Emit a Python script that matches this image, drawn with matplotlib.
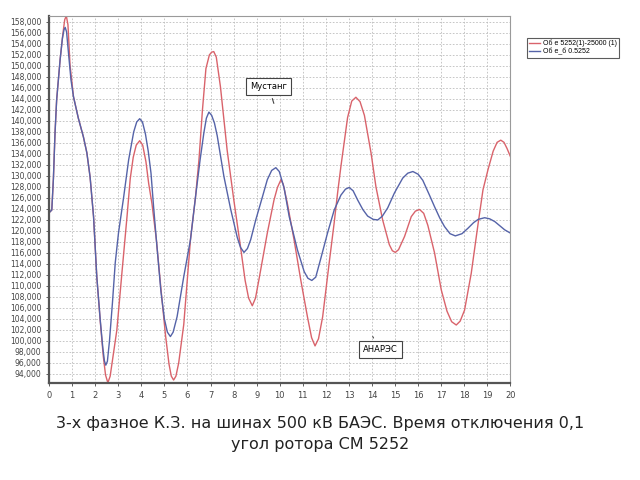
import matplotlib.pyplot as plt
from matplotlib.ticker import FuncFormatter

# red curve: Об е 5252(1)-25000 (1)   (time, value in thousands)
t_red = [0, 0.12, 0.19, 0.26, 0.33, 0.48, 0.6, 0.68, 0.75, 0.82, 0.91, 1.06, 1.27, 1.49,
         1.64, 1.78, 1.93, 2.07, 2.22, 2.35, 2.45, 2.55, 2.65, 2.75, 2.94, 3.16, 3.38, 3.52,
         3.65, 3.78, 3.93, 4.06, 4.2, 4.32, 4.46, 4.65, 4.85, 5.05, 5.2, 5.3, 5.4, 5.5, 5.62,
         5.84, 6.13, 6.35, 6.5, 6.65, 6.8, 6.95, 7.05, 7.14, 7.25, 7.43, 7.72, 8.01, 8.3, 8.5,
         8.65, 8.81, 8.95, 9.1, 9.46, 9.75, 9.9, 10.05, 10.15, 10.33, 10.62, 10.91, 11.2,
         11.38, 11.53, 11.68, 11.86, 12.14, 12.36, 12.51, 12.65, 12.94, 13.12, 13.3, 13.48,
         13.67, 13.96, 14.17, 14.46, 14.75, 14.88, 15.01, 15.15, 15.41, 15.7, 15.88, 16.06,
         16.24, 16.42, 16.71, 17.0, 17.25, 17.45, 17.65, 17.82, 18.01, 18.3, 18.6, 18.81,
         19.03, 19.25, 19.42, 19.58, 19.72, 19.85, 20]
v_red = [123.3, 123.8, 129.5, 137.8, 143.8, 151.1, 155.8, 158.4, 159.1, 157.5, 150.2, 144.4,
         140.5, 137.1, 134.2, 129.8, 122.6, 111.7, 103.6, 97.3, 93.8, 92.4, 93.6, 96.5, 102.0,
         112.4, 122.6, 129.5, 133.4, 135.6, 136.4, 135.6, 132.6, 128.6, 125.0, 118.5, 109.5,
         101.0, 95.8, 93.6, 92.9, 93.6, 96.0, 103.0, 118.4, 126.2, 133.0, 142.0, 149.5, 152.0,
         152.5, 152.6, 151.6, 146.2, 134.7, 125.6, 117.1, 111.0, 107.8, 106.4, 107.8, 111.2,
         119.6, 125.6, 127.9, 129.3, 128.5, 125.0, 118.4, 111.1, 104.4, 100.6, 99.1, 100.4,
         104.4, 114.1, 121.5, 127.0, 131.7, 140.6, 143.6, 144.3, 143.5, 141.0, 134.1, 128.0,
         122.0, 117.5, 116.4, 116.1, 116.6, 119.0, 122.6, 123.6, 123.9, 123.2, 121.0, 116.0,
         109.3, 105.4, 103.5, 102.9, 103.6, 105.6, 112.3, 121.4, 127.5, 131.2, 134.5, 136.1,
         136.5, 136.1, 135.0, 133.5]

# blue curve: Об е_б 0.5252
t_blue = [0, 0.12, 0.19, 0.26, 0.33, 0.48, 0.58, 0.65, 0.7, 0.76, 0.84, 0.95, 1.06, 1.27,
          1.49, 1.64, 1.78, 1.93, 2.07, 2.22, 2.33, 2.4, 2.46, 2.53, 2.62, 2.75, 2.87, 3.01,
          3.23, 3.45, 3.67, 3.8, 3.93, 4.05, 4.18, 4.3, 4.42, 4.53, 4.65, 4.85, 5.0, 5.13,
          5.26, 5.38, 5.55, 5.84, 6.13, 6.35, 6.55, 6.71, 6.82, 6.93, 7.05, 7.17, 7.29, 7.58,
          7.87, 8.16, 8.3, 8.45, 8.6, 8.74, 8.96, 9.25, 9.46, 9.65, 9.83, 9.98, 10.19, 10.41,
          10.77, 11.06, 11.22, 11.39, 11.56, 11.78, 12.07, 12.36, 12.65, 12.85, 13.01, 13.18,
          13.38, 13.6, 13.81, 14.05, 14.25, 14.45, 14.68, 14.97, 15.33, 15.55, 15.77, 16.0,
          16.2, 16.49, 16.71, 16.93, 17.14, 17.38, 17.61, 17.9, 18.16, 18.4, 18.6, 18.88,
          19.1, 19.32, 19.55, 19.75, 20]
v_blue = [123.3, 123.8, 129.5, 137.8, 143.8, 151.1, 155.0, 156.6, 157.0, 156.2, 152.5, 147.5,
          144.4, 140.5, 137.1, 134.2, 129.8, 122.6, 111.7, 103.8, 98.8, 96.4, 95.6, 96.3,
          100.0, 107.0, 114.2, 119.6, 126.0, 132.9, 138.0, 139.8, 140.4, 139.8, 137.6, 134.5,
          130.5, 124.5, 118.5, 109.0, 104.0, 101.6, 100.8, 101.6, 104.4, 111.7, 118.4, 126.2,
          133.0, 137.8, 140.5, 141.6, 141.0, 139.6, 137.3, 129.9, 124.0, 118.8, 117.0, 116.1,
          116.8, 118.4, 122.0, 126.2, 129.3, 131.0, 131.5, 130.8, 127.8, 122.6, 116.5, 112.6,
          111.4, 111.0, 111.6, 115.0, 119.6, 123.8, 126.5, 127.6, 127.9, 127.3, 125.6, 123.9,
          122.7, 122.1, 122.0, 122.7, 124.2, 126.9, 129.6, 130.5, 130.8, 130.3, 129.2, 126.5,
          124.4, 122.4, 120.8, 119.5, 119.1, 119.5, 120.5, 121.5, 122.1, 122.4, 122.2, 121.7,
          120.9, 120.2, 119.6]

y_ticks = list(range(94000, 158001, 2000))
x_ticks = list(range(0, 21))

fig = plt.figure(figsize=(6.4, 4.8), dpi=100)
ax = fig.add_axes([0.0766, 0.202, 0.721, 0.765])

ax.plot(t_red, [v * 1000 for v in v_red], color='#d9636b', lw=1.0,
        label='Об е 5252(1)-25000 (1)')
ax.plot(t_blue, [v * 1000 for v in v_blue], color='#5563a8', lw=1.0,
        label='Об е_б 0.5252')

ax.set_xlim(0, 20)
ax.set_ylim(92350, 159100)
ax.set_xticks(x_ticks)
ax.set_yticks(y_ticks)
ax.yaxis.set_major_formatter(FuncFormatter(lambda v, p: '{:,.0f}'.format(v)))
ax.tick_params(labelsize=5.5, colors='#444444', length=2, width=0.6)
ax.tick_params(axis='x', labelsize=6)
ax.grid(True, color='#bdbdbd', linestyle=(0, (2, 2)), linewidth=0.6)

for side in ['top', 'right']:
    ax.spines[side].set_color('#9a9a9a')
    ax.spines[side].set_linewidth(0.8)
for side in ['left', 'bottom']:
    ax.spines[side].set_color('#555555')
    ax.spines[side].set_linewidth(1.6)

leg = ax.legend(loc='upper left', bbox_to_anchor=(1.035, 0.94),
                prop={'family': 'Liberation Sans', 'size': 5},
                frameon=True, fancybox=False, handlelength=1.6, handletextpad=0.4,
                borderpad=0.3, labelspacing=0.15, borderaxespad=0)
leg.get_frame().set_edgecolor('#333333')
leg.get_frame().set_linewidth(0.8)

# callouts
box = dict(boxstyle='square,pad=0.5', fc='white', ec='#444444', lw=0.8)
ax.annotate('Мустанг', xy=(9.78, 142700), xytext=(9.52, 146200), fontsize=6,
            ha='center', va='center', bbox=box,
            arrowprops=dict(arrowstyle='-', color='#444444', lw=0.8))
ax.annotate('АНАРЭС', xy=(14.03, 100800), xytext=(14.35, 98450), fontsize=6,
            ha='center', va='center', bbox=box,
            arrowprops=dict(arrowstyle='-', color='#444444', lw=0.8))

fig.text(0.5, 0.117, '3-х фазное К.З. на шинах 500 кВ БАЭС. Время отключения 0,1',
         ha='center', va='center', fontsize=11.5, color='#222222')
fig.text(0.5, 0.075, 'угол ротора СМ 5252', ha='center', va='center',
         fontsize=11.5, color='#222222')

fig.savefig('out.png', dpi=100)
